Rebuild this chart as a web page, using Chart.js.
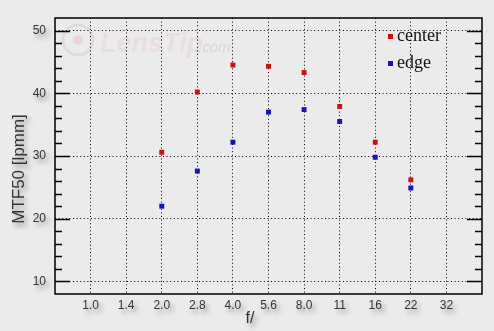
<!DOCTYPE html>
<html>
<head>
<meta charset="utf-8">
<script src="https://cdn.jsdelivr.net/npm/chart.js@4/dist/chart.umd.min.js"></script>
<style>
  html, body { margin: 0; padding: 0; background: #ebebeb; }
  #wrap { width: 494px; height: 331px; position: relative; }
</style>
</head>
<body>
<div id="wrap"><canvas id="mtf"></canvas></div>
<script>
// ── Data ──────────────────────────────────────────
const fStops   = ['1.0', '1.4', '2.0', '2.8', '4.0', '5.6', '8.0', '11', '16', '22', '32'];
const center   = [null, null, 30.6, 40.2, 44.5, 44.3, 43.3, 37.9, 32.2, 26.2, null];
const edge     = [null, null, 22.0, 27.6, 32.2, 37.0, 37.4, 35.5, 29.8, 24.9, null];
const yMajor   = [10, 20, 30, 40, 50];
const yMinor   = [12, 14, 16, 18, 22, 24, 26, 28, 32, 34, 36, 38, 42, 44, 46, 48];
const yTitle   = 'MTF50 [lpmm]';
const xTitle   = 'f/';

const RED  = '#cc1111';
const BLUE = '#1414b8';
const INK  = '#333';

const toPoints = (arr) => arr.map((v, i) => ({ x: i, y: v })).filter((p) => p.y !== null);

// ── Helpers ───────────────────────────────────────
function shadowText(ctx, txt, x, y) {
  ctx.save();
  ctx.shadowColor = 'rgba(0,0,0,0.4)';
  ctx.shadowBlur = 5;
  ctx.shadowOffsetX = 3;
  ctx.shadowOffsetY = 4;
  ctx.fillText(txt, x, y);
  ctx.restore();
}

// background + faint watermark
const backdrop = {
  id: 'backdrop',
  beforeDraw(chart) {
    const { ctx, width, height } = chart;
    ctx.save();
    ctx.fillStyle = '#ebebeb';
    ctx.fillRect(0, 0, width, height);
    // LensTip watermark
    ctx.strokeStyle = 'rgba(200,170,170,0.25)';
    ctx.lineWidth = 3;
    ctx.beginPath();
    ctx.arc(78, 40, 15, 0, Math.PI * 2);
    ctx.stroke();
    ctx.fillStyle = 'rgba(225,160,160,0.3)';
    ctx.beginPath();
    ctx.arc(78, 40, 5, 0, Math.PI * 2);
    ctx.fill();
    ctx.font = 'italic bold 27px "Liberation Sans", Arial, sans-serif';
    ctx.fillStyle = 'rgba(230,190,190,0.3)';
    ctx.textBaseline = 'alphabetic';
    ctx.fillText('LensTip', 100, 52);
    ctx.font = 'italic 15px "Liberation Sans", Arial, sans-serif';
    ctx.fillStyle = 'rgba(190,190,190,0.45)';
    ctx.fillText('.com', 198, 52);
    ctx.restore();
  }
};

// frame, inner ticks, labels, titles, legend
const decor = {
  id: 'decor',
  afterDraw(chart) {
    const { ctx, chartArea: a, scales: { x, y } } = chart;
    ctx.save();
    ctx.strokeStyle = '#000';
    ctx.lineWidth = 1.5;
    ctx.strokeRect(a.left, a.top, a.right - a.left, a.bottom - a.top);

    ctx.lineWidth = 1.3;
    ctx.beginPath();
    yMajor.forEach((v) => {
      const py = Math.round(y.getPixelForValue(v)) + 0.5;
      ctx.moveTo(a.left, py); ctx.lineTo(a.left + 15, py);
      ctx.moveTo(a.right, py); ctx.lineTo(a.right - 15, py);
    });
    yMinor.forEach((v) => {
      const py = Math.round(y.getPixelForValue(v)) + 0.5;
      ctx.moveTo(a.left, py); ctx.lineTo(a.left + 7, py);
      ctx.moveTo(a.right, py); ctx.lineTo(a.right - 7, py);
    });
    ctx.stroke();

    // tick labels
    ctx.fillStyle = INK;
    ctx.font = '12px "Liberation Sans", Arial, sans-serif';
    ctx.textAlign = 'right';
    ctx.textBaseline = 'middle';
    yMajor.forEach((v) => shadowText(ctx, String(v), a.left - 9, y.getPixelForValue(v)));
    ctx.textAlign = 'center';
    ctx.textBaseline = 'top';
    fStops.forEach((lbl, i) => shadowText(ctx, lbl, x.getPixelForValue(i), a.bottom + 6));

    // axis titles
    ctx.font = '17px "Liberation Sans", Arial, sans-serif';
    ctx.save();
    ctx.translate(19, 169);
    ctx.rotate(-Math.PI / 2);
    ctx.textAlign = 'center';
    ctx.textBaseline = 'middle';
    shadowText(ctx, yTitle, 0, 0);
    ctx.restore();
    ctx.font = '16px "Liberation Sans", Arial, sans-serif';
    ctx.textAlign = 'center';
    ctx.textBaseline = 'middle';
    shadowText(ctx, xTitle, 250, 319);

    // legend (inside, top right)
    ctx.font = '18px "Liberation Serif", "Times New Roman", serif';
    ctx.textAlign = 'left';
    ctx.textBaseline = 'alphabetic';
    chart.data.datasets.forEach((ds, i) => {
      const cy = 36 + i * 27;
      ctx.fillStyle = ds.backgroundColor;
      ctx.fillRect(388, cy - 2, 5, 5);
      ctx.fillStyle = '#111';
      ctx.fillText(ds.label, 397, cy + 5);
    });
    ctx.restore();
  }
};

// ── Chart ─────────────────────────────────────────
const dotted = {
  grid: { color: '#000', lineWidth: 1, drawTicks: false },
  border: { display: false, dash: [1, 2.6] },
  ticks: { display: false },
};

new Chart(document.getElementById('mtf'), {
  type: 'scatter',
  data: {
    datasets: [
      { label: 'center', data: toPoints(center), backgroundColor: RED, borderColor: RED },
      { label: 'edge',   data: toPoints(edge),   backgroundColor: BLUE, borderColor: BLUE },
    ],
  },
  options: {
    responsive: true,
    maintainAspectRatio: false,
    animation: false,
    layout: { padding: { left: 0, top: 18, right: 12, bottom: 0 } },
    elements: { point: { pointStyle: 'rect', radius: 3.5, borderWidth: 0, hoverRadius: 3.5 } },
    plugins: { legend: { display: false }, tooltip: { enabled: false } },
    scales: {
      x: {
        ...dotted,
        type: 'linear', min: -1, max: 11,
        afterBuildTicks: (s) => { s.ticks = fStops.map((_, i) => ({ value: i })); },
        afterFit: (s) => { s.height = 37; },
      },
      y: {
        ...dotted,
        min: 8, max: 52,
        afterBuildTicks: (s) => { s.ticks = yMajor.map((v) => ({ value: v })); },
        afterFit: (s) => { s.width = 55; },
      },
    },
  },
  plugins: [backdrop, decor],
});
</script>
</body>
</html>
